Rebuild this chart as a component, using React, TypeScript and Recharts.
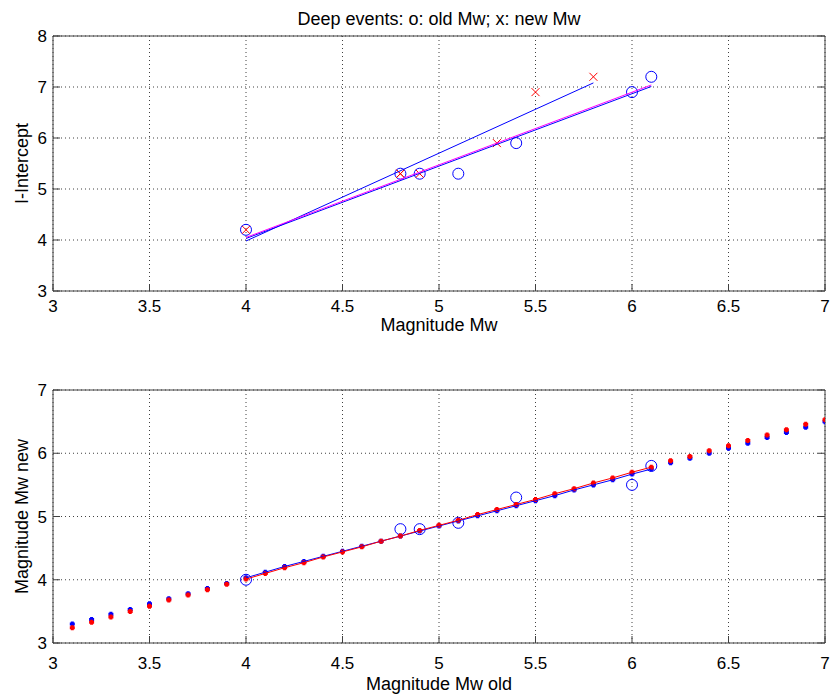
import React from 'react';
import { ScatterChart, Scatter, XAxis, YAxis, CartesianGrid, Label } from 'recharts';

const FONT = '"Liberation Sans", Arial, Helvetica, sans-serif';
const AX = '#404040';
const GRID = '#404040';
const BLUE = '#0000ff';
const RED = '#ff0000';
const MAGENTA = '#ff00ff';

// ---- ticks ----
const xTicks = [3, 3.5, 4, 4.5, 5, 5.5, 6, 6.5, 7];
const yTicksTop = [3, 4, 5, 6, 7, 8];
const yTicksBottom = [3, 4, 5, 6, 7];

// ---- top panel data ----
const oldMw = [4.0, 4.8, 4.9, 5.1, 5.4, 6.0, 6.1];
const newMw = [4.0, 4.8, 4.8, 4.9, 5.3, 5.5, 5.8];
const intercept = [4.2, 5.3, 5.3, 5.3, 5.9, 6.9, 7.2];

const fitNewX = [4.0, 5.8];
const fitNewY = [3.98, 7.08];
const fitOldX = [4.0, 6.1];
const fitOldY = [4.03, 7.01];
const fitOld2Y = [4.05, 7.04];

// ---- bottom panel data ----
const convX = [
  3.1, 3.2, 3.3, 3.4, 3.5, 3.6, 3.7, 3.8, 3.9, 4.0,
  4.1, 4.2, 4.3, 4.4, 4.5, 4.6, 4.7, 4.8, 4.9, 5.0,
  5.1, 5.2, 5.3, 5.4, 5.5, 5.6, 5.7, 5.8, 5.9, 6.0,
  6.1, 6.2, 6.3, 6.4, 6.5, 6.6, 6.7, 6.8, 6.9, 7.0,
];
const convBlue = [
  3.30, 3.37, 3.455, 3.53, 3.62, 3.70, 3.78, 3.86, 3.94, 4.03,
  4.12, 4.21, 4.29, 4.37, 4.45, 4.53, 4.61, 4.69, 4.77, 4.85,
  4.93, 5.01, 5.09, 5.17, 5.25, 5.33, 5.42, 5.50, 5.58, 5.67,
  5.75, 5.85, 5.92, 6.00, 6.08, 6.16, 6.25, 6.33, 6.41, 6.50,
];
const convRed = [
  3.24, 3.33, 3.41, 3.50, 3.58, 3.68, 3.76, 3.84, 3.93, 4.01,
  4.10, 4.19, 4.27, 4.36, 4.44, 4.52, 4.61, 4.69, 4.78, 4.86,
  4.94, 5.03, 5.11, 5.19, 5.27, 5.36, 5.44, 5.53, 5.61, 5.70,
  5.78, 5.88, 5.95, 6.04, 6.12, 6.20, 6.29, 6.37, 6.46, 6.53,
];
const fitRangeMin = 4.0;
const fitRangeMax = 6.1;

const pts = (xs: number[], ys: number[]) => xs.map((x, i) => ({ x, y: ys[i] }));
const inFit = (p: { x: number }) => p.x >= fitRangeMin - 1e-9 && p.x <= fitRangeMax + 1e-9;

// ---- shapes ----
const CircleShape = (p: any) => (
  <circle cx={p.cx} cy={p.cy} r={5.5} fill="none" stroke={BLUE} strokeWidth={1} />
);
const CrossShape = (p: any) => (
  <path
    d={`M${p.cx - 4},${p.cy - 4}L${p.cx + 4},${p.cy + 4}M${p.cx - 4},${p.cy + 4}L${p.cx + 4},${p.cy - 4}`}
    stroke={RED}
    strokeWidth={1}
    fill="none"
  />
);
const dotShape = (color: string) => (p: any) => (
  <path
    d={`M${p.cx - 1.5},${p.cy - 2.5}h3v1h1v3h-1v1h-3v-1h-1v-3h1z`}
    fill={color}
  />
);
const NoShape = () => <g />;

// ---- ticks ----
const TL = 7;
const bottomTick = (labelDy: number) => (props: any) => {
  const { x, y, payload } = props;
  return (
    <g>
      <line x1={x} x2={x} y1={y} y2={y - TL} stroke={AX} strokeWidth={1} />
      <text x={x} y={y + labelDy} textAnchor="middle" fontFamily={FONT} fontSize={17} fill="#000">
        {String(payload.value)}
      </text>
    </g>
  );
};
const topTick = (props: any) => {
  const { x, y } = props;
  return <line x1={x} x2={x} y1={y} y2={y + TL} stroke={AX} strokeWidth={1} />;
};
const leftTick = (props: any) => {
  const { x, y, payload } = props;
  return (
    <g>
      <line x1={x} x2={x + TL} y1={y} y2={y} stroke={AX} strokeWidth={1} />
      <text x={x - 6} y={y + 6} textAnchor="end" fontFamily={FONT} fontSize={17} fill="#000">
        {String(payload.value)}
      </text>
    </g>
  );
};
const rightTick = (props: any) => {
  const { x, y } = props;
  return <line x1={x} x2={x - TL} y1={y} y2={y} stroke={AX} strokeWidth={1} />;
};

type PanelProps = {
  height: number;
  topH: number;
  bottomH: number;
  yDomain: [number, number];
  yTicks: number[];
  xLabel: string;
  yLabel: string;
  tickDy: number;
  labelDy: number;
  title?: string;
  children: React.ReactNode;
};

function Panel({ height, topH, bottomH, yDomain, yTicks, xLabel, yLabel, tickDy, labelDy, title, children }: PanelProps) {
  return (
    <ScatterChart width={831} height={height} margin={{ top: 0, right: 0, bottom: 0, left: 0 }}>
      <CartesianGrid stroke={GRID} strokeDasharray="1 3" strokeWidth={1} />
      <XAxis
        type="number"
        dataKey="x"
        domain={[3, 7]}
        ticks={xTicks}
        interval={0}
        allowDataOverflow
        height={bottomH}
        tickSize={0}
        tickMargin={0}
        tickLine={false}
        axisLine={{ stroke: AX }}
        tick={bottomTick(tickDy)}
      >
        <Label
          content={(p: any) => {
            const vb = p.viewBox || {};
            return (
              <text
                x={vb.x + vb.width / 2}
                y={vb.y + labelDy}
                textAnchor="middle"
                fontFamily={FONT}
                fontSize={18}
                fill="#000"
              >
                {xLabel}
              </text>
            );
          }}
        />
      </XAxis>
      <XAxis
        xAxisId="top"
        orientation="top"
        type="number"
        domain={[3, 7]}
        ticks={xTicks}
        interval={0}
        allowDataOverflow
        height={topH}
        tickSize={0}
        tickMargin={0}
        tickLine={false}
        axisLine={{ stroke: AX }}
        tick={topTick}
      >
        {title ? (
          <Label
            content={(p: any) => {
              const vb = p.viewBox || {};
              return (
                <text
                  x={vb.x + vb.width / 2}
                  y={vb.y + vb.height - 11}
                  textAnchor="middle"
                  fontFamily={FONT}
                  fontSize={18}
                  fill="#000"
                >
                  {title}
                </text>
              );
            }}
          />
        ) : null}
      </XAxis>
      <YAxis
        type="number"
        dataKey="y"
        domain={yDomain}
        ticks={yTicks}
        interval={0}
        allowDataOverflow
        width={53}
        tickSize={0}
        tickMargin={0}
        tickLine={false}
        axisLine={{ stroke: AX }}
        tick={leftTick}
      >
        <Label
          content={(p: any) => {
            const vb = p.viewBox || {};
            const cx = 28;
            const cy = vb.y + vb.height / 2;
            return (
              <text
                x={cx}
                y={cy}
                transform={`rotate(-90, ${cx}, ${cy})`}
                textAnchor="middle"
                fontFamily={FONT}
                fontSize={18}
                fill="#000"
              >
                {yLabel}
              </text>
            );
          }}
        />
      </YAxis>
      <YAxis
        yAxisId="right"
        orientation="right"
        type="number"
        domain={yDomain}
        ticks={yTicks}
        interval={0}
        allowDataOverflow
        width={6}
        tickSize={0}
        tickMargin={0}
        tickLine={false}
        axisLine={{ stroke: AX }}
        tick={rightTick}
      />
      {children}
    </ScatterChart>
  );
}

export default function App() {
  const topCircles = pts(oldMw, intercept);
  const topCrosses = pts(newMw, intercept);
  const lineNew = pts(fitNewX, fitNewY);
  const lineOld = pts(fitOldX, fitOldY);
  const lineOld2 = pts(fitOldX, fitOld2Y);

  const botCircles = pts(oldMw, newMw);
  const blueDots = pts(convX, convBlue);
  const redDots = pts(convX, convRed);
  const blueLine = blueDots.filter(inFit);
  const redLine = redDots.filter(inFit);

  return (
    <div style={{ position: 'absolute', left: 0, top: 0, width: 831, height: 695, background: '#fff' }}>
      <div style={{ position: 'absolute', left: 0, top: 0 }}>
        <Panel
          height={345}
          topH={36}
          bottomH={54}
          yDomain={[3, 8]}
          yTicks={yTicksTop}
          xLabel="Magnitude Mw"
          yLabel="I-Intercept"
          tickDy={21}
          labelDy={40}
          title="Deep events: o: old Mw; x: new Mw"
        >
          <Scatter data={topCircles} shape={CircleShape} isAnimationActive={false} />
          <Scatter data={topCrosses} shape={CrossShape} isAnimationActive={false} />
          <Scatter data={lineNew} shape={NoShape} line={{ stroke: BLUE, strokeWidth: 1 }} isAnimationActive={false} />
          <Scatter data={lineOld} shape={NoShape} line={{ stroke: BLUE, strokeWidth: 1 }} isAnimationActive={false} />
          <Scatter data={lineOld2} shape={NoShape} line={{ stroke: MAGENTA, strokeWidth: 1 }} isAnimationActive={false} />
        </Panel>
      </div>
      <div style={{ position: 'absolute', left: 0, top: 345 }}>
        <Panel
          height={350}
          topH={45}
          bottomH={52}
          yDomain={[3, 7]}
          yTicks={yTicksBottom}
          xLabel="Magnitude Mw old"
          yLabel="Magnitude Mw new"
          tickDy={26}
          labelDy={47}
        >
          <Scatter data={botCircles} shape={CircleShape} isAnimationActive={false} />
          <Scatter data={blueDots} shape={dotShape(BLUE)} isAnimationActive={false} />
          <Scatter data={redDots} shape={dotShape(RED)} isAnimationActive={false} />
          <Scatter data={blueLine} shape={NoShape} line={{ stroke: BLUE, strokeWidth: 1 }} isAnimationActive={false} />
          <Scatter data={redLine} shape={NoShape} line={{ stroke: RED, strokeWidth: 1 }} isAnimationActive={false} />
        </Panel>
      </div>
    </div>
  );
}
